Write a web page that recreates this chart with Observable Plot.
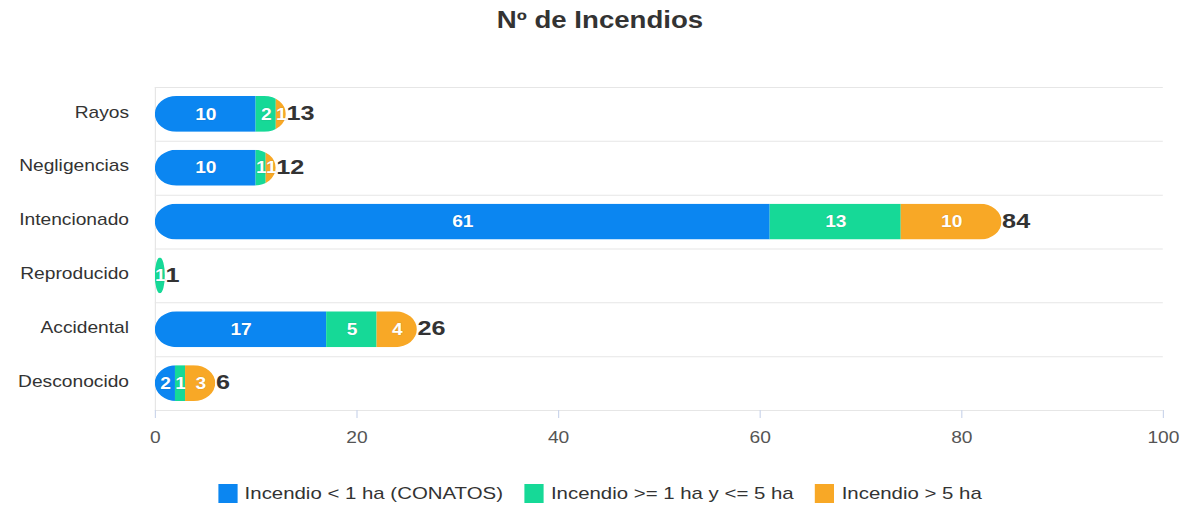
<!DOCTYPE html>
<html>
<head>
<meta charset="utf-8">
<script src="https://cdn.jsdelivr.net/npm/d3@7"></script>
<script src="https://cdn.jsdelivr.net/npm/@observablehq/plot@0.6"></script>
<style>
  html, body { margin: 0; padding: 0; background: #fff; }
  body { width: 1200px; height: 517px; overflow: hidden; font-family: "Liberation Sans", Arial, sans-serif; }
  #wrap { width: 1000px; transform: scaleX(1.2); transform-origin: 0 0; }
  #title { height: 40px; line-height: 40px; text-align: center; font-weight: bold; font-size: 23px; color: #333; }
  #chart svg { display: block; }
  #legend { display: flex; justify-content: center; align-items: center; height: 47px; font-size: 17px; color: #333; }
  .item { display: flex; align-items: center; margin: 0 9px; }
  .sw { width: 16px; height: 19px; margin-right: 6px; }
</style>
</head>
<body>
<div id="wrap">
  <div id="title">Nº de Incendios</div>
  <div id="chart"></div>
  <div id="legend"></div>
</div>
<script>
const causes = ["Rayos", "Negligencias", "Intencionado", "Reproducido", "Accidental", "Desconocido"];
const series = ["Incendio < 1 ha (CONATOS)", "Incendio >= 1 ha y <= 5 ha", "Incendio > 5 ha"];
const small = [10, 10, 61, 0, 17, 2];
const medium = [2, 1, 13, 1, 5, 1];
const large = [1, 1, 10, 0, 4, 3];
const colors = ["#0b86f1", "#16d997", "#f8a826"];
const xTicks = [0, 20, 40, 60, 80, 100];

const seriesValues = [small, medium, large];
const rows = [];
causes.forEach((c, i) => {
  series.forEach((s, j) => rows.push({cause: c, type: s, value: seriesValues[j][i]}));
});
const totals = causes.map((c, i) => ({cause: c, total: small[i] + medium[i] + large[i]}));

const W = 1000, H = 430, mT = 47, mB = 60, mL = 129, mR = 31;
const band = (H - mT - mB) / causes.length;
const inset = 9;

const chart = Plot.plot({
  width: W, height: H,
  marginTop: mT, marginBottom: mB, marginLeft: mL, marginRight: mR,
  style: {fontFamily: "'Liberation Sans', Arial, sans-serif", background: "white", overflow: "visible"},
  x: {domain: [0, 100], label: null},
  y: {domain: causes, padding: 0, round: false, label: null},
  color: {domain: series, range: colors},
  marks: [
    Plot.ruleY(causes, {y: d => d, dy: -band / 2, stroke: "#e6e6e6"}),
    Plot.ruleY([causes[causes.length - 1]], {y: d => d, dy: band / 2, stroke: "#e6e6e6"}),
    Plot.ruleX([0], {stroke: "#e6e6e6"}),
    Plot.axisX({ticks: xTicks, tickSize: 8, tickPadding: 13, stroke: "#ccd6eb", fill: "#555", fontSize: 16, label: null}),
    Plot.axisY({tickSize: 0, tickPadding: 22, fill: "#333", fontSize: 16, dy: -2, label: null}),
    Plot.barX(totals, {x: "total", y: "cause", rx: 18, insetTop: inset, insetBottom: inset, fill: "#000"}),
    Plot.barX(rows, {x: "value", y: "cause", z: "type", fill: "type", insetTop: inset, insetBottom: inset}),
    Plot.text(rows.filter(d => d.value > 0), Plot.stackX({x: "value", y: "cause", z: "type", text: "value",
      fill: "white", fontWeight: "bold", fontSize: 16, stroke: "#333", strokeOpacity: 0.15, strokeWidth: 1})),
    Plot.text(totals, {x: "total", y: "cause", text: "total", textAnchor: "start", dx: 0, dy: -1,
      fill: "#333", fontWeight: "bold", fontSize: 21})
  ]
});

// Round the outer ends of each stacked bar: use the total bars as a clip path.
const svg = d3.select(chart);
const bars = svg.selectAll('g[aria-label="bar"]').nodes();
if (bars.length >= 2) {
  const clip = svg.append("defs").append("clipPath").attr("id", "barclip");
  d3.select(bars[0]).selectAll("rect").each(function() {
    clip.node().appendChild(this.cloneNode());
  });
  d3.select(bars[0]).remove();
  d3.select(bars[1]).attr("clip-path", "url(#barclip)");
}
document.getElementById("chart").appendChild(chart);

const legend = d3.select("#legend");
series.forEach((s, j) => {
  const it = legend.append("div").attr("class", "item");
  it.append("div").attr("class", "sw").style("background", colors[j]);
  it.append("span").text(s);
});
</script>
</body>
</html>
